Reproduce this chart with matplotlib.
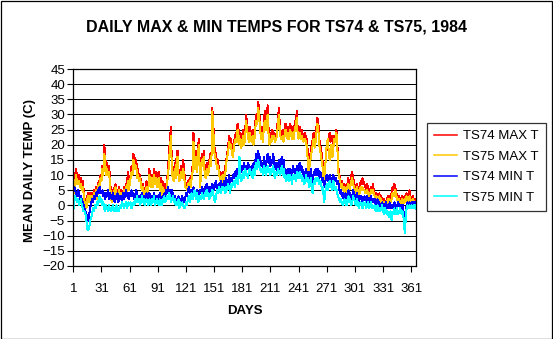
import numpy as np
import matplotlib
matplotlib.use("Agg")
import matplotlib.pyplot as plt
from matplotlib.patches import Rectangle

plt.rcParams['font.family'] = ['Liberation Sans', 'DejaVu Sans']

title = "DAILY MAX & MIN TEMPS FOR TS74 & TS75, 1984"
x_label = "DAYS"
y_label = "MEAN DAILY TEMP (C)"
series_names = ["TS74 MAX T", "TS75 MAX T", "TS74 MIN T", "TS75 MIN T"]
x_tick_days = [1, 31, 61, 91, 121, 151, 181, 211, 241, 271, 301, 331, 361]
y_ticks = [-20, -15, -10, -5, 0, 5, 10, 15, 20, 25, 30, 35, 40, 45]

ts74_max = [
    7, 5, 10, 12, 9, 8, 10, 7, 9, 6,
    8, 5, 2, 1, 0, 3, 4, 2, 4, 3,
    4, 3, 5, 4, 6, 4, 5, 8, 7, 10,
    9, 13, 11, 20, 16, 12, 14, 11, 13, 10,
    4, 2, 5, 4, 6, 7, 3, 5, 4, 6,
    3, 5, 2, 4, 6, 4, 7, 5, 11, 6,
    8, 10, 13, 12, 17, 16, 14, 15, 11, 12,
    9, 10, 8, 6, 7, 5, 4, 6, 8, 5,
    7, 12, 9, 8, 10, 7, 12, 9, 11, 8,
    10, 11, 7, 9, 5, 8, 6, 4, 7, 5,
    9, 12, 18, 22, 26, 13, 11, 9, 14, 10,
    16, 18, 12, 9, 11, 13, 10, 15, 12, 8,
    7, 6, 8, 7, 9, 8, 10, 13, 24, 16,
    14, 18, 13, 20, 22, 7, 12, 17, 15, 18,
    12, 10, 14, 11, 13, 15, 17, 14, 32, 28,
    20, 18, 17, 14, 15, 12, 11, 10, 9, 11,
    8, 10, 13, 15, 17, 20, 23, 21, 22, 19,
    18, 21, 22, 24, 23, 27, 25, 22, 24, 21,
    23, 25, 22, 24, 30, 27, 25, 23, 26, 24,
    23, 25, 22, 24, 28, 30, 29, 34, 31, 27,
    24, 26, 23, 28, 31, 27, 29, 33, 25, 22,
    24, 22, 25, 23, 24, 22, 23, 25, 29, 32,
    26, 24, 23, 25, 22, 24, 27, 25, 23, 26,
    24, 27, 25, 23, 26, 24, 28, 27, 31, 25,
    24, 26, 23, 25, 24, 22, 23, 24, 21, 22,
    15, 12, 16, 18, 20, 22, 24, 21, 23, 26,
    29, 27, 22, 20, 18, 16, 13, 9, 11, 16,
    19, 21, 22, 24, 21, 23, 22, 20, 23, 22,
    25, 23, 13, 11, 9, 7, 8, 6, 7, 5,
    6, 7, 5, 9, 6, 8, 10, 11, 9, 8,
    6, 5, 7, 6, 4, 5, 8, 7, 9, 8,
    7, 6, 5, 7, 6, 5, 4, 6, 5, 7,
    5, 4, 3, 4, 2, 3, 4, 2, 3, 2,
    1, 2, 1, 0, 2, 3, 2, 3, 2, 4,
    6, 5, 7, 6, 4, 3, 2, 3, 1, 2,
    3, 1, 2, 3, 2, 4, 3, 2, 5, 3,
    2, 1, 3, 1, 2, 1,
]

ts75_max = [
    5, 4, 8, 10, 7, 7, 8, 6, 7, 5,
    6, 4, 1, 0, -1, 2, 3, 1, 3, 2,
    3, 2, 4, 3, 5, 2, 4, 7, 6, 9,
    8, 12, 10, 17, 14, 10, 12, 10, 11, 8,
    3, 1, 4, 3, 5, 6, 2, 4, 3, 5,
    2, 4, 1, 3, 5, 3, 6, 4, 8, 5,
    7, 9, 11, 10, 15, 14, 12, 13, 9, 10,
    8, 9, 7, 5, 6, 3, 3, 5, 6, 4,
    6, 10, 8, 6, 9, 6, 10, 7, 9, 6,
    8, 9, 5, 7, 3, 6, 4, 3, 5, 4,
    8, 10, 15, 19, 23, 11, 9, 8, 12, 9,
    14, 16, 10, 8, 10, 11, 9, 12, 10, 6,
    6, 5, 7, 6, 8, 6, 9, 11, 21, 14,
    12, 16, 11, 18, 20, 6, 10, 15, 14, 16,
    10, 9, 12, 10, 11, 13, 15, 13, 31, 26,
    18, 16, 15, 12, 13, 11, 9, 8, 8, 10,
    7, 9, 11, 14, 16, 18, 21, 19, 20, 17,
    16, 19, 21, 22, 21, 25, 23, 20, 22, 19,
    21, 23, 20, 22, 28, 25, 23, 21, 24, 22,
    21, 23, 20, 22, 26, 28, 27, 32, 29, 25,
    22, 24, 21, 26, 28, 25, 27, 30, 23, 20,
    22, 21, 23, 22, 23, 21, 22, 23, 27, 30,
    24, 22, 22, 23, 21, 23, 25, 23, 22, 24,
    22, 25, 23, 22, 24, 22, 26, 25, 29, 23,
    22, 24, 22, 23, 22, 21, 22, 22, 20, 20,
    11, 11, 14, 16, 18, 20, 22, 19, 21, 24,
    27, 25, 20, 18, 16, 14, 11, 8, 10, 17,
    20, 22, 18, 15, 17, 20, 16, 19, 22, 21,
    24, 22, 11, 10, 8, 6, 7, 5, 6, 4,
    5, 6, 4, 7, 5, 6, 8, 9, 7, 6,
    5, 4, 6, 5, 3, 4, 6, 5, 6, 5,
    5, 4, 4, 5, 4, 3, 3, 5, 4, 5,
    4, 3, 2, 3, 1, 2, 3, 1, 2, 1,
    0, 1, -1, 0, 1, 2, 1, 2, 1, 2,
    4, 3, 4, 5, 3, 2, 1, 2, 0, 1,
    2, 0, 1, 2, 1, 3, 2, 1, 3, 2,
    1, 0, 2, 1, 1, 0,
]

ts74_min = [
    4, 6, 5, 4, 3, 5, 4, 2, 3, 2,
    1, 0, -1, -2, -3, -5, -5, -3, -1, 1,
    2, 1, 3, 2, 4, 3, 5, 4, 6, 5,
    4, 5, 3, 4, 2, 4, 3, 5, 2, 4,
    3, 2, 4, 3, 1, 3, 2, 4, 1, 3,
    2, 3, 1, 4, 2, 3, 5, 3, 4, 2,
    4, 3, 5, 3, 4, 2, 3, 5, 4, 2,
    3, 1, 3, 4, 2, 3, 1, 2, 4, 3,
    2, 4, 3, 1, 3, 2, 4, 2, 3, 1,
    3, 2, 4, 2, 1, 3, 2, 4, 3, 5,
    4, 6, 4, 5, 3, 5, 4, 2, 3, 1,
    2, 1, 3, 0, 2, 1, 3, 2, 1, 2,
    4, 3, 5, 6, 4, 5, 3, 4, 6, 5,
    4, 3, 5, 4, 3, 5, 4, 6, 5, 4,
    6, 5, 7, 6, 5, 4, 6, 5, 7, 6,
    5, 7, 8, 6, 5, 7, 6, 8, 7, 6,
    7, 8, 6, 9, 7, 8, 10, 7, 9, 8,
    10, 9, 11, 9, 12, 10, 11, 9, 12, 11,
    13, 12, 14, 11, 13, 12, 14, 13, 11, 12,
    13, 11, 14, 12, 15, 17, 14, 18, 15, 16,
    13, 14, 12, 16, 14, 13, 15, 17, 14, 16,
    13, 15, 14, 17, 13, 12, 14, 11, 13, 15,
    12, 14, 16, 13, 15, 11, 12, 10, 11, 12,
    10, 12, 11, 9, 13, 11, 12, 10, 13, 11,
    12, 14, 11, 13, 12, 10, 9, 11, 12, 10,
    11, 8, 10, 12, 9, 7, 11, 10, 12, 11,
    10, 12, 9, 11, 10, 8, 9, 6, 7, 9,
    10, 8, 9, 10, 8, 9, 7, 10, 9, 8,
    9, 7, 8, 6, 4, 5, 3, 4, 2, 3,
    4, 2, 3, 5, 3, 4, 2, 3, 5, 4,
    3, 2, 4, 3, 1, 3, 2, 3, 1, 2,
    3, 2, 1, 3, 2, 1, 2, 3, 1, 2,
    1, 2, 0, 1, 2, 0, 1, -1, 0, 1,
    0, -1, 0, 1, -1, 0, -1, 1, 0, -1,
    0, -1, 1, 0, -1, 0, 1, 0, -1, 0,
    -1, 0, -3, -7, -4, 0, 1, 0, 1, 0,
    1, 0, 1, 0, 1, 0,
]

ts75_min = [
    -2, 2, 3, 2, 1, 2, 0, 1, 2, 0,
    -1, -2, -2, -3, -5, -8, -8, -7, -5, -4,
    -3, -1, -2, 0, -1, 1, 0, 2, 3, 1,
    2, 0, 1, -1, -2, 0, -1, -2, 0, -1,
    -2, -1, 0, -2, -1, -2, 0, -1, -2, -1,
    0, -1, 1, 0, -1, 0, 1, -1, 0, 1,
    0, 1, -1, 0, 1, 0, 2, 1, 3, 1,
    2, 0, 1, 3, 1, 2, 0, 1, 2, 1,
    0, 2, 1, 0, 2, 1, 3, 0, 1, 2,
    1, 0, 2, 1, 0, 2, 1, 3, 1, 2,
    3, 2, 4, 3, 1, 2, 3, 1, 2, 0,
    1, 0, 2, -1, 1, 0, 1, 0, -1, -1,
    1, 0, 2, 3, 1, 2, 4, 2, 3, 5,
    3, 2, 4, 1, 2, 3, 2, 4, 3, 2,
    4, 3, 5, 4, 3, 2, 4, 3, 5, 4,
    2, 1, 3, 5, 4, 6, 5, 4, 6, 5,
    6, 5, 4, 6, 5, 7, 6, 4, 7, 6,
    7, 8, 6, 9, 8, 7, 10, 16, 9, 8,
    10, 11, 9, 12, 11, 10, 9, 11, 12, 10,
    11, 9, 12, 10, 13, 14, 12, 15, 13, 12,
    11, 12, 10, 13, 12, 10, 11, 13, 12, 11,
    10, 12, 11, 13, 10, 9, 11, 10, 12, 11,
    10, 11, 13, 10, 12, 9, 10, 8, 9, 10,
    8, 10, 9, 7, 10, 9, 10, 8, 11, 9,
    10, 11, 9, 10, 8, 9, 7, 8, 10, 8,
    9, 6, 8, 9, 5, 4, 8, 7, 9, 8,
    8, 9, 7, 8, 7, 5, 6, 1, 3, 6,
    7, 5, 6, 8, 6, 7, 5, 8, 6, 5,
    6, 4, 3, 2, 1, 2, 1, 0, 1, 2,
    1, 0, 2, 3, 1, 2, 0, 1, 3, 2,
    1, 0, 2, 1, -1, 0, 1, 0, -1, 1,
    0, 1, -1, 0, 1, -1, 0, 1, -1, 0,
    -1, 0, -2, -1, 0, -2, -1, -2, -1, 0,
    -2, -3, -1, -2, -3, -2, -4, -3, -2, -5,
    -3, -2, -1, -3, -2, -1, -3, -2, -1, -2,
    -3, -2, -5, -9, -5, -1, 0, -1, 0, -1,
    0, -1, 0, -1, 0, -1,
]

series = [ts74_max, ts75_max, ts74_min, ts75_min]
colors = ["#FF0000", "#FFC800", "#0000FF", "#00FFFF"]

W, H = 553, 339
fig = plt.figure(figsize=(W / 100, H / 100), dpi=100)
fig.patch.set_facecolor("white")

# outer frame around the whole chart
fig.add_artist(Rectangle((0.5 / W, 0.5 / H), 1 - 1.5 / W, 1 - 1.5 / H,
                         transform=fig.transFigure, fill=False,
                         edgecolor="black", linewidth=0.9))

left, right, top, bottom = 73.3, 416, 69, 266
ax = fig.add_axes([left / W, 1 - bottom / H, (right - left) / W, (bottom - top) / H])

for vals, col, name in zip(series, colors, series_names):
    days = np.arange(1, len(vals) + 1)
    ax.plot(days, vals, color=col, linewidth=0.72, label=name,
            antialiased=False)

ax.set_xlim(1, 366)
ax.set_ylim(-20, 45)
ax.set_xticks(x_tick_days)
ax.set_yticks(y_ticks)
ax.tick_params(axis="both", direction="out", length=4, width=0.8,
               labelsize=9.5, colors="black", pad=2)
ax.tick_params(axis="x", pad=8)
ax.grid(axis="y", color="black", linewidth=0.7, antialiased=False)
ax.set_axisbelow(True)
for s in ax.spines.values():
    s.set_color("black")
    s.set_linewidth(0.9)

fig.text(276.5 / W, 1 - 27.5 / H, title, ha="center", va="center",
         fontsize=11.5, fontweight="bold")
fig.text(244.6 / W, 1 - 311 / H, x_label, ha="center", va="center",
         fontsize=9.5, fontweight="bold")
fig.text(30 / W, 1 - 170 / H, y_label, ha="center", va="center",
         rotation=90, fontsize=9.5, fontweight="bold")

leg = fig.legend(loc="upper left", bbox_to_anchor=(427 / W, 1 - 123 / H),
                 bbox_transform=fig.transFigure, fontsize=9.5,
                 frameon=True, fancybox=False, edgecolor="black",
                 handlelength=1.75, handletextpad=0.45, labelspacing=0.62,
                 borderpad=0.55, borderaxespad=0)
leg.get_frame().set_linewidth(0.9)
for ln in leg.get_lines():
    ln.set_linewidth(1.1)

fig.savefig("out.png", dpi=100)
